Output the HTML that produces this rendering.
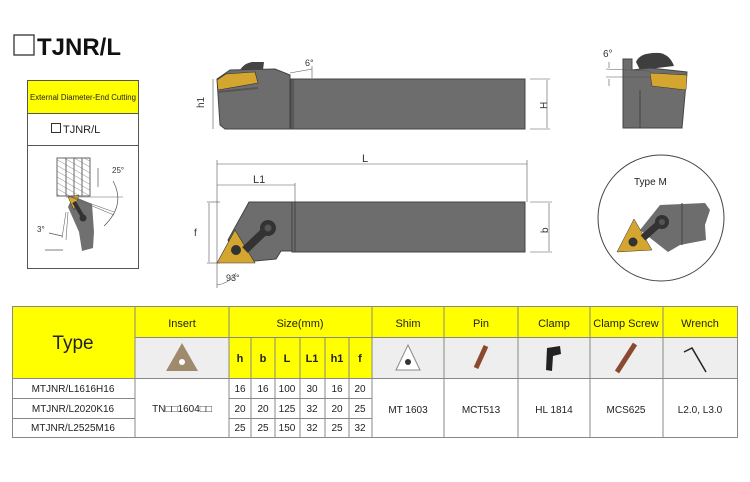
<!DOCTYPE html>
<html><head><meta charset="utf-8"><style>
body{margin:0;background:#fff;width:750px;height:482px;overflow:hidden;font-family:"Liberation Sans",sans-serif}
svg{position:absolute;left:0;top:0}
</style></head><body>
<svg width="750" height="482" viewBox="0 0 750 482" font-family="Liberation Sans, sans-serif">
<defs>
<pattern id="hatch" width="5" height="5" patternUnits="userSpaceOnUse" patternTransform="rotate(-60)"><line x1="0" y1="0" x2="0" y2="5" stroke="#777" stroke-width="0.8"/></pattern>
</defs>
<rect x="14" y="35" width="20" height="20" fill="none" stroke="#333" stroke-width="1.3"/>
<text x="37" y="55" font-size="24" font-weight="bold" fill="#111">TJNR/L</text>
<rect x="27.5" y="80.5" width="111" height="188" fill="#fff" stroke="#555"/>
<rect x="28" y="81" width="110" height="32" fill="#ffff00"/>
<line x1="27" y1="113.5" x2="139" y2="113.5" stroke="#555"/>
<line x1="27" y1="145.5" x2="139" y2="145.5" stroke="#555"/>
<text x="83" y="100" font-size="8" text-anchor="middle" fill="#222" textLength="106" lengthAdjust="spacingAndGlyphs">External Diameter-End Cutting</text>
<rect x="51.5" y="123.5" width="9" height="9" fill="none" stroke="#333"/>
<text x="63" y="133" font-size="11" fill="#222">TJNR/L</text>
<rect x="57" y="158" width="33" height="38" fill="url(#hatch)" stroke="#666"/>
<line x1="66" y1="158" x2="66" y2="196" stroke="#666"/><line x1="74" y1="158" x2="74" y2="196" stroke="#666"/><line x1="82" y1="158" x2="82" y2="196" stroke="#666"/>
<polygon points="68,207 73,196 92,204 94,232 93,248 82,251 79,232" fill="#707070"/>
<polygon points="68,197 79,195 74,210" fill="#d9a92a" stroke="#333" stroke-width="0.5"/>
<line x1="74" y1="202" x2="83" y2="217" stroke="#333" stroke-width="4"/>
<circle cx="83" cy="218" r="3.5" fill="#333"/>
<line x1="66" y1="197" x2="123" y2="197" stroke="#666" stroke-width="0.6"/>
<line x1="68" y1="196" x2="114" y2="215" stroke="#666" stroke-width="0.6"/>
<line x1="72" y1="197" x2="114" y2="212" stroke="#666" stroke-width="0.6"/>
<line x1="66" y1="212" x2="62" y2="238" stroke="#666" stroke-width="0.6"/>
<line x1="68" y1="212" x2="66" y2="240" stroke="#666" stroke-width="0.6"/>
<path d="M113,181 Q126,205 104,226" fill="none" stroke="#555" stroke-width="0.7"/>
<line x1="98" y1="187" x2="98" y2="168" stroke="#555" stroke-width="0.7"/>
<line x1="45" y1="250" x2="63" y2="250" stroke="#555" stroke-width="0.7"/>
<line x1="49" y1="233" x2="62" y2="236" stroke="#555" stroke-width="0.7"/>
<text x="112" y="173" font-size="8" fill="#333">25°</text>
<text x="37" y="232" font-size="8" fill="#333">3°</text>
<path d="M237,78 Q240,64 252,62 L264,62 L262,78Z" fill="#444"/>
<polygon points="217,79 230,70 275,69 290,75 290,129 225,129 220,125" fill="#6d6d6d" stroke="#444"/>
<rect x="291" y="79" width="234" height="50" fill="#6d6d6d" stroke="#444"/>
<line x1="293" y1="79" x2="293" y2="129" stroke="#444"/>
<polygon points="217,80 226,74 255,72 258,83 218,90" fill="#d4a630" stroke="#333" stroke-width="0.6"/>
<line x1="218" y1="92" x2="258" y2="88" stroke="#555" stroke-width="2"/>
<line x1="213" y1="79" x2="213" y2="129" stroke="#555" stroke-width="0.6"/>
<line x1="530" y1="79" x2="550" y2="79" stroke="#555" stroke-width="0.6"/>
<line x1="530" y1="129" x2="550" y2="129" stroke="#555" stroke-width="0.6"/>
<line x1="547" y1="80" x2="547" y2="128" stroke="#555" stroke-width="0.6"/>
<line x1="290" y1="73" x2="312" y2="69" stroke="#555" stroke-width="0.6"/>
<line x1="312" y1="66" x2="312" y2="78" stroke="#555" stroke-width="0.6"/>
<text x="196" y="108" font-size="10" fill="#333" transform="rotate(-90 200 104)">h1</text>
<text x="538" y="108" font-size="10" fill="#333" transform="rotate(-90 543 104)">H</text>
<text x="305" y="66" font-size="9" fill="#333">6°</text>
<line x1="217" y1="164" x2="527" y2="164" stroke="#555" stroke-width="0.6"/>
<line x1="217" y1="185" x2="295" y2="185" stroke="#555" stroke-width="0.6"/>
<line x1="217" y1="160" x2="217" y2="288" stroke="#555" stroke-width="0.6"/>
<line x1="295" y1="183" x2="295" y2="202" stroke="#555" stroke-width="0.6"/>
<line x1="527" y1="160" x2="527" y2="202" stroke="#555" stroke-width="0.6"/>
<text x="362" y="162" font-size="11" fill="#333">L</text>
<text x="253" y="183" font-size="11" fill="#333">L1</text>
<polygon points="249,202 292,202 292,251 281,251 276,259 255,261 235,258 228,240" fill="#6d6d6d" stroke="#444"/>
<rect x="292" y="202" width="233" height="50" fill="#6d6d6d" stroke="#444"/>
<line x1="295" y1="202" x2="295" y2="252" stroke="#444"/>
<polygon points="217,263 235,230 255,263" fill="#d4a630" stroke="#333" stroke-width="0.6"/>
<circle cx="236" cy="250" r="5" fill="#333"/>
<line x1="245" y1="250" x2="268" y2="228" stroke="#333" stroke-width="8"/>
<circle cx="268" cy="228" r="8" fill="#333"/><circle cx="268" cy="228" r="3.5" fill="#555"/>
<line x1="207" y1="202" x2="220" y2="202" stroke="#555" stroke-width="0.6"/>
<line x1="207" y1="263" x2="220" y2="263" stroke="#555" stroke-width="0.6"/>
<line x1="209" y1="203" x2="209" y2="262" stroke="#555" stroke-width="0.6"/>
<line x1="530" y1="202" x2="552" y2="202" stroke="#555" stroke-width="0.6"/>
<line x1="530" y1="252" x2="552" y2="252" stroke="#555" stroke-width="0.6"/>
<line x1="549" y1="203" x2="549" y2="251" stroke="#555" stroke-width="0.6"/>
<text x="194" y="236" font-size="10" fill="#333">f</text>
<text x="540" y="231" font-size="10" fill="#333" transform="rotate(-90 545 228)">b</text>
<path d="M217,285 Q230,283 236,273" fill="none" stroke="#555" stroke-width="0.6"/>
<text x="226" y="281" font-size="9" fill="#333">93°</text>
<path d="M636,62 Q640,52 660,53 Q670,55 674,66 L640,70Z" fill="#3e3e3e"/>
<polygon points="623,59 632,59 632,70 650,68 687,72 682,128 623,128" fill="#6d6d6d" stroke="#444"/>
<polygon points="650,73 687,75 686,90 652,86" fill="#d4a630" stroke="#333" stroke-width="0.5"/>
<line x1="640" y1="90" x2="640" y2="128" stroke="#444"/>
<line x1="606" y1="69" x2="650" y2="71" stroke="#555" stroke-width="0.6"/>
<line x1="606" y1="77" x2="650" y2="77" stroke="#555" stroke-width="0.6"/>
<line x1="609" y1="62" x2="609" y2="68" stroke="#555" stroke-width="0.6"/>
<line x1="609" y1="79" x2="609" y2="86" stroke="#555" stroke-width="0.6"/>
<text x="603" y="57" font-size="10" fill="#333">6°</text>
<circle cx="661" cy="218" r="63" fill="#fff" stroke="#444"/>
<text x="634" y="185" font-size="10" fill="#222">Type M</text>
<polygon points="660,205 705,203 710,210 705,225 706,240 680,245 668,252 640,230" fill="#6d6d6d"/>
<line x1="682" y1="203" x2="682" y2="245" stroke="#444"/>
<polygon points="617,252 634,219 652,250" fill="#d4a630" stroke="#333" stroke-width="0.5"/>
<circle cx="633" cy="242" r="4.5" fill="#333"/>
<line x1="643" y1="238" x2="661" y2="222" stroke="#333" stroke-width="7"/>
<circle cx="662" cy="222" r="7" fill="#333"/><circle cx="662" cy="222" r="3" fill="#555"/>
</svg>
<div style="position:absolute;left:12px;top:306px">
<svg width="726" height="132" viewBox="12 306 726 132" style="position:static">
<g fill="#ffff00"><rect x="12" y="306" width="123" height="72"/><rect x="135" y="306" width="603" height="31"/><rect x="229" y="337" width="143" height="41"/></g>
<g fill="#eeeeee"><rect x="135" y="337" width="94" height="41"/><rect x="372" y="337" width="366" height="41"/></g>
<g stroke="#888" stroke-width="1" fill="none">
<rect x="12.5" y="306.5" width="725" height="131"/>
<line x1="135" y1="306" x2="135" y2="437"/><line x1="229" y1="306" x2="229" y2="437"/>
<line x1="372" y1="306" x2="372" y2="437"/><line x1="444" y1="306" x2="444" y2="437"/>
<line x1="518" y1="306" x2="518" y2="437"/><line x1="590" y1="306" x2="590" y2="437"/>
<line x1="663" y1="306" x2="663" y2="437"/>
<line x1="135" y1="337.5" x2="738" y2="337.5"/><line x1="12" y1="378.5" x2="738" y2="378.5"/>
<line x1="12" y1="398.5" x2="135" y2="398.5"/><line x1="12" y1="418.5" x2="135" y2="418.5"/>
<line x1="229" y1="398.5" x2="372" y2="398.5"/><line x1="229" y1="418.5" x2="372" y2="418.5"/>
<line x1="251" y1="337" x2="251" y2="437"/><line x1="275" y1="337" x2="275" y2="437"/>
<line x1="300" y1="337" x2="300" y2="437"/><line x1="325" y1="337" x2="325" y2="437"/>
<line x1="349" y1="337" x2="349" y2="437"/>
</g>
<g font-family="Liberation Sans, sans-serif" fill="#222" text-anchor="middle">
<text x="73" y="349" font-size="19">Type</text>
<g font-size="11"><text x="182" y="327">Insert</text><text x="300" y="327">Size(mm)</text><text x="408" y="327">Shim</text><text x="481" y="327">Pin</text><text x="554" y="327">Clamp</text><text x="626" y="327">Clamp Screw</text><text x="700" y="327">Wrench</text></g>
<g font-size="11" font-weight="bold"><text x="240" y="362">h</text><text x="263" y="362">b</text><text x="287" y="362">L</text><text x="312" y="362">L1</text><text x="337" y="362">h1</text><text x="360" y="362">f</text></g>
<g font-size="10"><text x="73" y="392">MTJNR/L1616H16</text><text x="73" y="412">MTJNR/L2020K16</text><text x="73" y="431">MTJNR/L2525M16</text>
<text x="182" y="412">TN□□1604□□</text>
<text x="240" y="392">16</text><text x="263" y="392">16</text><text x="287" y="392">100</text><text x="312" y="392">30</text><text x="337" y="392">16</text><text x="360" y="392">20</text>
<text x="240" y="412">20</text><text x="263" y="412">20</text><text x="287" y="412">125</text><text x="312" y="412">32</text><text x="337" y="412">20</text><text x="360" y="412">25</text>
<text x="240" y="431">25</text><text x="263" y="431">25</text><text x="287" y="431">150</text><text x="312" y="431">32</text><text x="337" y="431">25</text><text x="360" y="431">32</text>
<text x="408" y="413">MT 1603</text><text x="481" y="413">MCT513</text><text x="554" y="413">HL 1814</text><text x="626" y="413">MCS625</text><text x="700" y="413">L2.0,  L3.0</text></g>
</g>
<polygon points="182,343 198,371 166,371" fill="#a08a6e"/><circle cx="182" cy="362" r="3" fill="#fff"/>
<polygon points="408,345 420,370 396,370" fill="#fff" stroke="#888"/><circle cx="408" cy="362" r="3" fill="#333"/>
<line x1="476" y1="368" x2="486" y2="346" stroke="#8a4a30" stroke-width="5"/>
<path d="M547,348 L560,346 L561,354 L553,356 L552,371 L546,370Z" fill="#222"/>
<line x1="617" y1="372" x2="635" y2="344" stroke="#8a4a30" stroke-width="5"/>
<polyline points="684,352 692,348 706,372" fill="none" stroke="#222" stroke-width="1.5"/>
</svg></div>
</body></html>
